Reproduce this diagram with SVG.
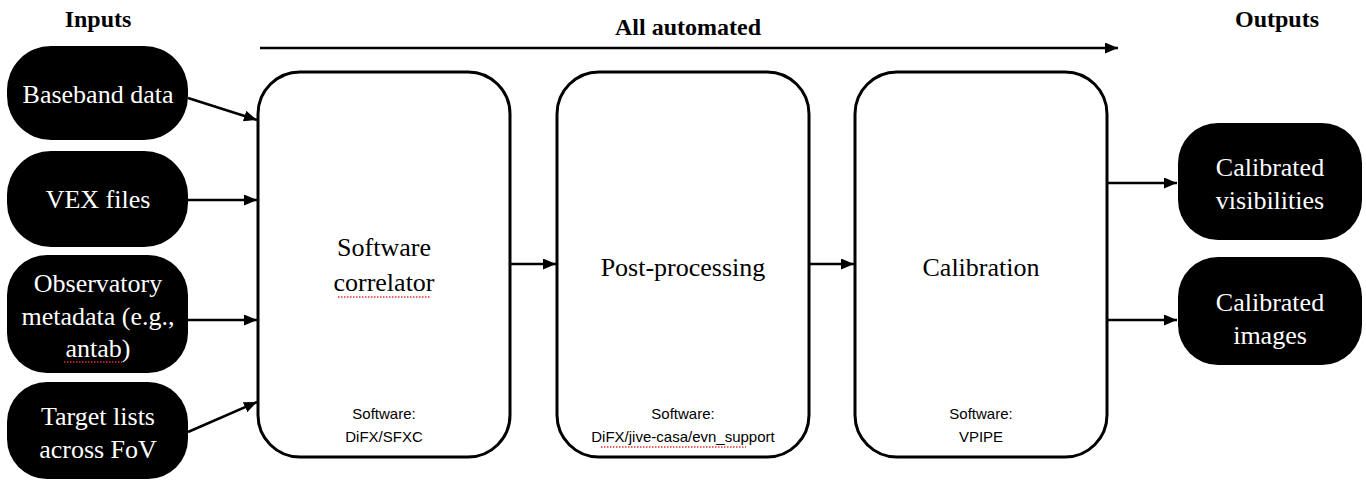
<svg xmlns="http://www.w3.org/2000/svg" width="1366" height="481" viewBox="0 0 1366 481">
<style>
.io{fill:#000;}
.iot{fill:#fff;font-family:"Liberation Serif","DejaVu Serif",serif;font-size:26px;text-anchor:middle;}
.box{fill:#fff;stroke:#000;stroke-width:3;}
.bt{fill:#000;font-family:"Liberation Serif","DejaVu Serif",serif;font-size:26px;text-anchor:middle;}
.sw{fill:#000;font-family:"Liberation Sans","DejaVu Sans",sans-serif;font-size:15px;text-anchor:middle;}
.ttl{fill:#000;font-family:"Liberation Serif","DejaVu Serif",serif;font-size:24px;font-weight:bold;text-anchor:middle;}
.conn{stroke:#000;stroke-width:2.5;fill:none;marker-end:url(#ah);}
.sq{stroke:#e03030;stroke-width:1.3;stroke-dasharray:1.5 1.5;fill:none;}
</style>
<defs>
<marker id="ah" viewBox="0 0 13 11" refX="13" refY="5.5" markerWidth="13" markerHeight="11" markerUnits="userSpaceOnUse" orient="auto">
<path d="M0,0 L13,5.5 L0,11 Z" fill="#000"/>
</marker>
</defs>
<rect width="1366" height="481" fill="#fff"/>
<text class="ttl" x="98" y="27">Inputs</text>
<text class="ttl" x="688" y="35">All automated</text>
<text class="ttl" x="1277" y="27">Outputs</text>
<g id="connectors">
<line class="conn" x1="260" y1="48" x2="1118" y2="48"/>
<line class="conn" x1="188" y1="98" x2="257" y2="120"/>
<line class="conn" x1="188" y1="200" x2="257" y2="200"/>
<line class="conn" x1="188" y1="320" x2="257" y2="320"/>
<line class="conn" x1="188" y1="432" x2="257" y2="402"/>
<line class="conn" x1="510" y1="264" x2="556" y2="264"/>
<line class="conn" x1="809" y1="264" x2="854" y2="264"/>
<line class="conn" x1="1107" y1="183" x2="1177" y2="183"/>
<line class="conn" x1="1107" y1="320" x2="1177" y2="320"/>
</g>
<g id="baseband">
<rect class="io" x="7" y="46" width="181" height="94" rx="44"/>
<text class="iot" x="98" y="103">Baseband data</text>
</g>
<g id="vex">
<rect class="io" x="7" y="151" width="181" height="96" rx="44"/>
<text class="iot" x="98" y="208">VEX files</text>
</g>
<g id="observatory">
<rect class="io" x="7" y="255" width="181" height="118" rx="40"/>
<text class="iot" x="98" y="292">Observatory</text>
<text class="iot" x="98" y="325">metadata (e.g.,</text>
<text class="iot" x="98" y="357">antab)</text>
<path class="sq" d="M64,362 L122,362"/>
</g>
<g id="target">
<rect class="io" x="7" y="382" width="181" height="97" rx="40"/>
<text class="iot" x="98" y="425">Target lists</text>
<text class="iot" x="98" y="458">across FoV</text>
</g>
<g id="correlator">
<rect class="box" x="258" y="72" width="252" height="385" rx="42"/>
<text class="bt" x="384" y="256">Software</text>
<text class="bt" x="384" y="291">correlator</text>
<path class="sq" d="M338,297 L430,297"/>
<text class="sw" x="384" y="419">Software:</text>
<text class="sw" x="384" y="442">DiFX/SFXC</text>
</g>
<g id="postprocessing">
<rect class="box" x="557" y="72" width="252" height="385" rx="42"/>
<text class="bt" x="683" y="276">Post-processing</text>
<text class="sw" x="683" y="419">Software:</text>
<text class="sw" x="683" y="442">DiFX/jive-casa/evn_support</text>
<path class="sq" d="M601,447 L746,447"/>
</g>
<g id="calibration">
<rect class="box" x="855" y="72" width="252" height="385" rx="42"/>
<text class="bt" x="981" y="276">Calibration</text>
<text class="sw" x="981" y="419">Software:</text>
<text class="sw" x="981" y="442">VPIPE</text>
</g>
<g id="visibilities">
<rect class="io" x="1178" y="123" width="184" height="117" rx="40"/>
<text class="iot" x="1270" y="176">Calibrated</text>
<text class="iot" x="1270" y="209">visibilities</text>
</g>
<g id="images">
<rect class="io" x="1178" y="257" width="184" height="108" rx="40"/>
<text class="iot" x="1270" y="311">Calibrated</text>
<text class="iot" x="1270" y="344">images</text>
</g>
</svg>
